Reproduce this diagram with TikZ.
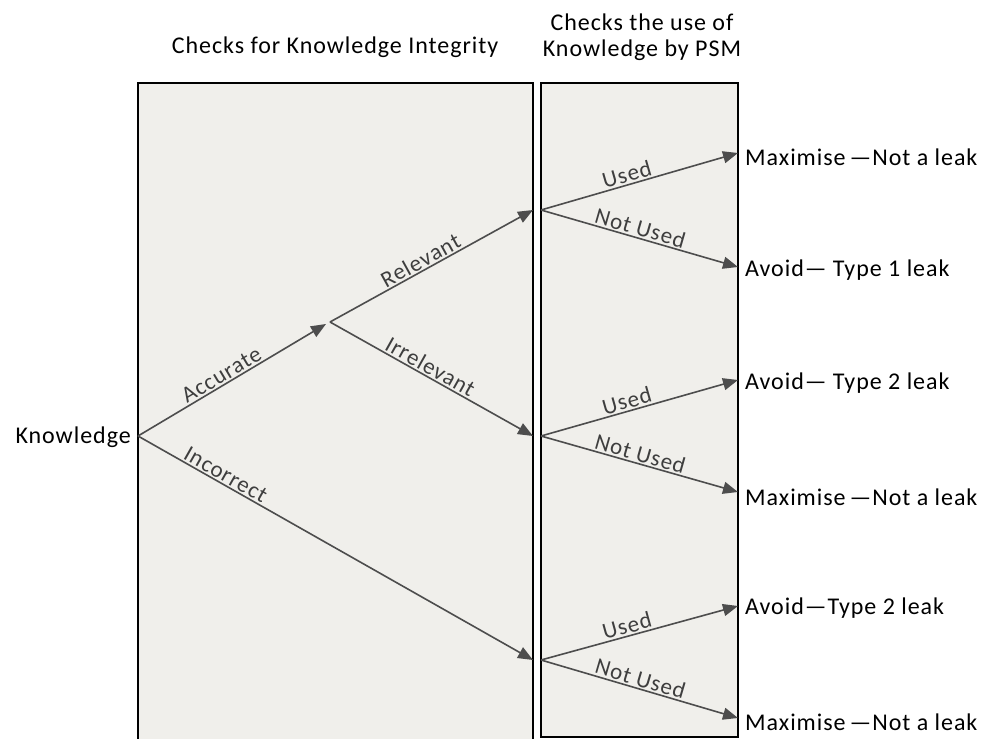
\documentclass[tikz,border=0pt]{standalone}
\usepackage{fontspec}
\setmainfont{Carlito}[LetterSpace=4]
\usetikzlibrary{arrows.meta}
\definecolor{panel}{HTML}{F0EFEB}
\definecolor{arr}{HTML}{4D4D4D}
\begin{document}
\begin{tikzpicture}[x=1pt,y=-1pt,
  panelbox/.style={draw=black,line width=1.4pt,fill=panel},
  branch/.style={draw=arr,line width=1.6pt,-{Triangle[length=15pt,width=12pt]}},
  lbl/.style={font=\fontsize{23}{26}\selectfont,text=arr!80!black,sloped,above,inner sep=1.5pt},
  outcome/.style={font=\fontsize{24}{28}\selectfont,anchor=west,inner sep=0pt},
  title/.style={font=\fontsize{24}{28}\selectfont,inner sep=0pt,align=center}]
\useasboundingbox (0,0) rectangle (986,739);
\clip (0,0) rectangle (986,739);

% panels
\path[panelbox] (138,83) rectangle (533,750);
\path[panelbox] (541,83) rectangle (738,737);

% headings
\node[title] (t1) at (335,47) {Checks for Knowledge Integrity};
\node[title] (t2a) at (642,22) {Checks the use of};
\node[title] (t2b) at (642,50) {Knowledge by PSM};

% branching points
\coordinate (k) at (138,436);
\coordinate (acc) at (330,322);
\coordinate (accin) at (326,324);
\coordinate (r1) at (533,210);
\coordinate (r2) at (533,436);
\coordinate (r3) at (533,660);
\coordinate (s1) at (541,210);
\coordinate (s2) at (541,436);
\coordinate (s3) at (541,660);

\node[font=\fontsize{24}{28}\selectfont,anchor=east,inner sep=0pt] (know) at (131,437) {Knowledge};

% integrity checks
\draw[branch] (k) -- node[lbl,pos=0.47] {Accurate} (accin);
\draw[branch] (acc) -- node[lbl,pos=0.47] {Relevant} (r1);
\draw[branch] (acc) -- node[lbl,pos=0.47] {Irrelevant} (r2);
\draw[branch] (k) -- node[lbl,pos=0.21] {Incorrect} (r3);

% outcomes
\coordinate (e1) at (738,153);
\coordinate (e2) at (738,267);
\coordinate (e3) at (738,380);
\coordinate (e4) at (738,492);
\coordinate (e5) at (738,606);
\coordinate (e6) at (738,718);

\draw[branch] (s1) -- node[lbl,pos=0.45] {Used} (e1);
\draw[branch] (s1) -- node[lbl,pos=0.49] {Not Used} (e2);
\draw[branch] (s2) -- node[lbl,pos=0.45] {Used} (e3);
\draw[branch] (s2) -- node[lbl,pos=0.49] {Not Used} (e4);
\draw[branch] (s3) -- node[lbl,pos=0.45] {Used} (e5);
\draw[branch] (s3) -- node[lbl,pos=0.49] {Not Used} (e6);

\node[outcome] (o1) at (745,157) {Maximise\,—Not a leak};
\node[outcome] (o2) at (745,270) {Avoid— Type 1 leak};
\node[outcome] (o3) at (745,383) {Avoid— Type 2 leak};
\node[outcome] (o4) at (745,497) {Maximise\,—Not a leak};
\node[outcome] (o5) at (745,608) {Avoid—Type 2 leak};
\node[outcome] (o6) at (745,722) {Maximise\,—Not a leak};
\end{tikzpicture}
\end{document}
